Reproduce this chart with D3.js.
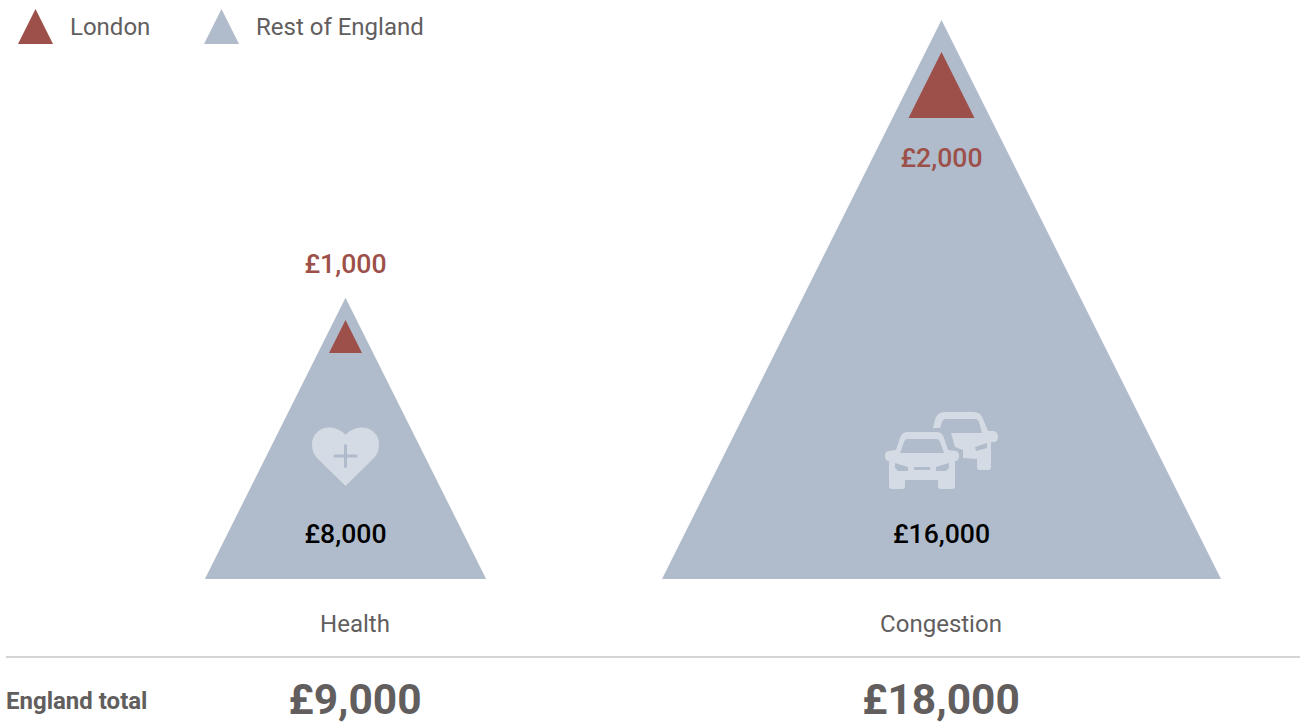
<!DOCTYPE html>
<html>
<head>
<meta charset="utf-8">
<script src="https://cdn.jsdelivr.net/npm/d3@7"></script>
<style>
  html, body { margin: 0; padding: 0; background: #fff; }
  text { font-family: Roboto, sans-serif; }
</style>
</head>
<body>
<div class="graph"></div>
<script>
const categories = ['Health', 'Congestion']
// estimated from triangle sizes, the labels below are rounded
const restValues = [8050, 16000]
const londonValues = [945, 1890]
const restLabels = ['£8,000', '£16,000']
const londonLabels = ['£1,000', '£2,000']
const totalLabels = ['£9,000', '£18,000']
const legendNames = ['London', 'Rest of England']

const RED = '#9d5049'
const BLUE = '#b0bccb'
const ICON = '#d5dbe4'
const GREY = '#625e5e'

const width = 1301
const height = 723
const baseline = 579

const svg = d3.select('.graph')
  .append('svg')
  .attr('width', width)
  .attr('height', height)
  .style('display', 'block')

// triangles have equal width and height, both follow the value
const size = d3.scaleLinear().domain([0, 16000]).range([0, 559])
const centre = d3.scaleOrdinal().domain(categories).range([345.5, 941.5])
const labelX = d3.scaleOrdinal().domain(categories).range([355, 941])
const legendX = d3.scaleOrdinal().domain(legendNames).range([35.5, 221.5])
const legendColor = d3.scaleOrdinal().domain(legendNames).range([RED, BLUE])

/**
 * Builds the path of an upward triangle.
 *
 * @param {number} cx The horizontal center
 * @param {number} bottom The y position of the base
 * @param {number} s The width and height of the triangle
 * @returns {string} The path
 */
function trianglePath (cx, bottom, s) {
  const path = d3.path()
  path.moveTo(cx - s / 2, bottom)
  path.lineTo(cx, bottom - s)
  path.lineTo(cx + s / 2, bottom)
  path.closePath()
  return path.toString()
}

function addText (str, x, y, fontSize, weight, fill, anchor) {
  return svg.append('text')
    .text(str)
    .attr('x', x)
    .attr('y', y)
    .attr('font-size', fontSize)
    .attr('font-weight', weight)
    .attr('fill', fill)
    .attr('text-anchor', anchor || 'middle')
}

// legend
legendNames.forEach((name) => {
  svg.append('path')
    .attr('d', trianglePath(legendX(name), 44, 35))
    .attr('fill', legendColor(name))
  addText(name, legendX(name) + 34.5, 35, 24, 400, GREY, 'start')
})

// rest of England triangles
svg.selectAll('.rest')
  .data(categories)
  .join('path')
  .attr('class', 'rest')
  .attr('d', (d, i) => trianglePath(centre(d), baseline, size(restValues[i])))
  .attr('fill', BLUE)

// London triangles, their base offset comes from the picture
const londonBase = d3.scaleOrdinal().domain(categories).range([353, 118])
svg.selectAll('.london')
  .data(categories)
  .join('path')
  .attr('class', 'london')
  .attr('d', (d, i) => trianglePath(centre(d), londonBase(d), size(londonValues[i])))
  .attr('fill', RED)

// icons
const heart = svg.append('g').attr('transform', 'translate(345.5, 427)')
heart.append('path')
  .attr('d', 'M0,58.5 L-28,31 C-34,25 -34,14 -31,9 C-26,0 -12,-3 0,8 C12,-3 26,0 31,9 C34,14 34,25 28,31 Z')
  .attr('fill', ICON)
  .attr('stroke', ICON)
  .attr('stroke-width', 1)
  .attr('stroke-linejoin', 'round')
heart.append('path')
  .attr('d', 'M-10.5,29 H10.5 M0,18.5 V39.5')
  .attr('stroke', BLUE)
  .attr('stroke-width', 3)
  .attr('stroke-linecap', 'round')

const cars = svg.append('g').attr('transform', 'translate(870, 400)')
cars.append('path')
  .attr('fill', ICON)
  .attr('fill-rule', 'evenodd')
  .attr('d', 'M63,28 L65,20 Q67,12 75,12 L103,12 Q111,12 113,19 L118,31 L124,31 Q128,32 128,37 Q128,42 124,42 L121,42 L121,67 Q121,70 118,70 L110,70 Q107,70 107,67 L107,59 L93,58 L93,50 L85,47 L81,33 L112,33 L109,22 Q108,19 105,19 L76,19 Q73,19 72,22 L70,28 Z ' +
    'M105,47 L117,43 L117,48 L106,51 Z')
cars.append('path')
  .attr('fill', ICON)
  .attr('fill-rule', 'evenodd')
  .attr('d', 'M37,32 L67,32 Q72,32 74,38 L78,50 L85,51 Q89,51 89,56 Q89,61 85,61 L85,86 Q85,89 82,89 L71,89 Q68,89 68,86 L68,80 L35,80 L35,86 Q35,89 32,89 L22,89 Q19,89 19,86 L19,61 Q15,61 15,56 Q15,51 19,51 L26,50 L30,38 Q32,32 37,32 Z ' +
    'M37,39 L67,39 Q69,39 70,42 L74,53 L30,53 L34,42 Q35,39 37,39 Z ' +
    'M25,63 L38,67 L38,71 L28,71 L25,68 Z ' +
    'M79,63 L66,67 L66,71 L76,71 L79,68 Z ' +
    'M44,67 L60,67 L60,70 L44,70 Z')

// value labels
const londonLabelY = d3.scaleOrdinal().domain(categories).range([273, 167])
svg.selectAll('.london-label')
  .data(categories)
  .join('text')
  .attr('class', 'london-label')
  .text((d, i) => londonLabels[i])
  .attr('x', (d) => centre(d))
  .attr('y', (d) => londonLabelY(d))
  .attr('font-size', 26.6)
  .attr('font-weight', 500)
  .attr('fill', RED)
  .attr('text-anchor', 'middle')

svg.selectAll('.rest-label')
  .data(categories)
  .join('text')
  .attr('class', 'rest-label')
  .text((d, i) => restLabels[i])
  .attr('x', (d) => centre(d))
  .attr('y', 543)
  .attr('font-size', 26.6)
  .attr('font-weight', 500)
  .attr('fill', '#000')
  .attr('text-anchor', 'middle')

// category names
svg.selectAll('.category')
  .data(categories)
  .join('text')
  .attr('class', 'category')
  .text((d) => d)
  .attr('x', (d) => labelX(d))
  .attr('y', 632)
  .attr('font-size', 24)
  .attr('fill', GREY)
  .attr('text-anchor', 'middle')

// totals row
svg.append('line')
  .attr('x1', 6)
  .attr('x2', 1300)
  .attr('y1', 657)
  .attr('y2', 657)
  .attr('stroke', '#d4d4d4')
  .attr('stroke-width', 2)

addText('England total', 6, 708.5, 24, 700, GREY, 'start')

svg.selectAll('.total')
  .data(categories)
  .join('text')
  .attr('class', 'total')
  .text((d, i) => totalLabels[i])
  .attr('x', (d) => labelX(d))
  .attr('y', 714)
  .attr('font-size', 42.5)
  .attr('font-weight', 700)
  .attr('fill', GREY)
  .attr('text-anchor', 'middle')
</script>
</body>
</html>
